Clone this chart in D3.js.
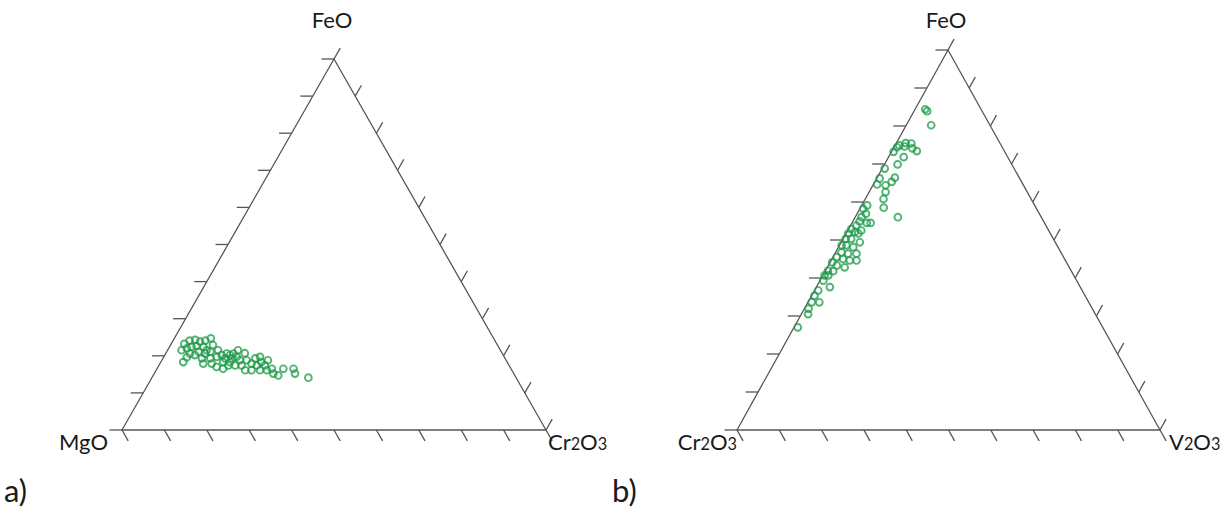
<!DOCTYPE html>
<html lang="en">
<head>
    <meta charset="UTF-8">
    <title>Ternary diagrams</title>
    <script src="https://cdn.jsdelivr.net/npm/d3@7"></script>
    <style>
        body { margin: 0; background: #fff; }
        svg text { font-family: Lato, "Open Sans", sans-serif; fill: #1a1a1a; }
    </style>
</head>
<body>
<div class="chart"></div>

<script type="text/javascript">
    // panel a: FeO / Cr2O3 in % (MgO = rest)
    var feoA = [23.2, 24.1, 24.3, 23.8, 24.1, 24.7, 21.5, 22.0, 22.4, 22.6, 22.4, 21.5, 21.1,
        18.3, 20.6, 20.2, 19.3, 17.9, 17.9, 19.7, 20.2, 19.3, 20.6, 20.2, 20.6, 19.3, 19.7,
        18.8, 17.0, 16.5, 17.4, 17.4, 17.4, 18.8, 17.9, 19.3, 19.7, 17.4, 18.3, 17.4, 16.1,
        16.1, 16.5, 15.2, 14.7, 16.5, 16.5, 15.2, 14.1, 16.1, 16.1, 18.3, 18.3, 19.3, 20.6,
        21.1, 19.6, 22.9, 21.5, 21.5, 20.7, 18.8];
    var crA = [3.1, 3.9, 5.1, 6.5, 7.6, 8.6, 3.3, 4.3, 5.2, 6.3, 8.0, 9.2, 10.3,
        5.3, 5.7, 7.1, 9.2, 10.2, 12.2, 12.5, 13.4, 14.7, 14.4, 15.4, 16.0, 16.3, 17.2,
        18.4, 13.8, 15.6, 16.4, 18.0, 19.5, 20.0, 21.6, 21.8, 22.7, 23.1, 23.7, 25.0, 26.1,
        24.5, 27.1, 28.1, 29.5, 29.8, 32.2, 33.2, 36.9, 21.0, 22.5, 14.7, 16.3, 11.2, 9.3,
        7.5, 5.5, 10.0, 11.9, 16.6, 18.6, 25.0];

    // panel b: FeO / V2O3 in % (Cr2O3 = rest)
    var feoB = [84.4, 83.9, 80.2, 75.5, 75.4, 74.9, 74.4, 74.6, 74.1, 73.4, 73.2, 71.8, 69.9,
        68.8, 66.2, 64.6, 64.4, 66.4, 65.3, 62.6, 60.8, 58.5, 56.0, 59.1, 58.2, 56.9, 56.0,
        54.9, 54.5, 53.8, 52.9, 52.1, 51.7, 51.7, 54.5, 52.5, 50.3, 50.3, 49.4, 48.6, 48.6,
        48.1, 46.7, 46.4, 46.4, 45.5, 45.0, 44.6, 44.6, 44.1, 43.3, 42.8, 41.9, 41.8, 40.7,
        40.7, 39.3, 37.6, 36.7, 35.3, 33.6, 33.6, 31.9, 30.5, 27.0];
    var v2o3B = [2.4, 3.1, 5.9, 2.2, 3.6, 1.0, 0.7, 2.4, 4.5, 5.9, 0.5, 3.6, 3.1,
        0.6, 0.7, 0.9, 3.0, 4.2, 4.0, 3.9, 4.3, 5.5, 10.1, 1.3, 0.8, 2.1, 1.5,
        1.6, 4.4, 1.4, 0.6, 1.9, 0.5, 2.9, 3.5, 3.2, 0.6, 1.9, 4.4, 0.5, 1.6,
        3.5, 1.4, 3.1, 5.1, 0.9, 2.6, 4.4, 6.0, 0.5, 2.0, 4.1, 0.6, 1.9, 0.4,
        1.3, 0.8, 3.2, 0.9, 0.7, 2.7, 0.9, 1.0, 1.6, 0.9];

    var tickValues = d3.range(0, 101, 10);

    var w = 1227, h = 512;
    var svg = d3.select('.chart').append('svg')
            .attr('width', w)
            .attr('height', h);

    function unit(a, b) {
        var dx = b[0] - a[0], dy = b[1] - a[1], l = Math.sqrt(dx * dx + dy * dy);
        return [dx / l, dy / l];
    }

    function drawPanel(L, R, T, feo, other, labels) {
        var g = svg.append('g');
        var tickLen = 12.5;

        // along the base and up the height
        var x = d3.scaleLinear().domain([0, 100]).range([L[0], R[0]]);
        var y = d3.scaleLinear().domain([0, 100]).range([L[1], T[1]]);
        var shear = (T[0] - L[0]) / (R[0] - L[0]);

        g.append('path')
                .attr('d', d3.line()([L, R, T]) + 'Z')
                .attr('fill', 'none')
                .attr('stroke', '#555')
                .attr('stroke-width', 1.3);

        // edge scales and tick directions
        var edges = [
            {s: d3.scaleLinear().domain([0, 100]).range([L, R]), dir: unit(T, R)},
            {s: d3.scaleLinear().domain([0, 100]).range([L, T]), dir: unit(R, L)},
            {s: d3.scaleLinear().domain([0, 100]).range([R, T]), dir: unit(L, T)}
        ];
        edges.forEach(function(e) {
            g.selectAll(null)
                    .data(tickValues)
                    .enter()
                    .append('line')
                    .attr('x1', function(d) { return e.s(d)[0]; })
                    .attr('y1', function(d) { return e.s(d)[1]; })
                    .attr('x2', function(d) { return e.s(d)[0] + e.dir[0] * tickLen; })
                    .attr('y2', function(d) { return e.s(d)[1] + e.dir[1] * tickLen; })
                    .attr('stroke', '#555')
                    .attr('stroke-width', 1.3);
        });

        g.selectAll('circle')
                .data(feo)
                .enter()
                .append('circle')
                .attr('cx', function(d, i) { return x(other[i] + shear * d); })
                .attr('cy', function(d) { return y(d); })
                .attr('r', 3.4)
                .attr('fill', 'none')
                .attr('stroke', '#1c9a48')
                .attr('stroke-width', 1.9)
                .attr('stroke-opacity', 0.75);

        labels.forEach(function(lb) {
            var t = g.append('text')
                    .attr('x', lb.x)
                    .attr('y', lb.y)
                    .attr('text-anchor', lb.anchor)
                    .style('font-size', lb.size + 'px');
            lb.parts.forEach(function(p, i) {
                t.append('tspan')
                        .style('font-size', (i % 2 ? lb.size * 0.74 : lb.size) + 'px')
                        .text(p);
            });
        });
    }

    drawPanel([122, 430], [546, 430], [334, 59], feoA, crA, [
        {x: 332, y: 28, anchor: 'middle', size: 22, parts: ['FeO']},
        {x: 108, y: 450, anchor: 'end', size: 22, parts: ['MgO']},
        {x: 548, y: 450, anchor: 'start', size: 22, parts: ['Cr', '2', 'O', '3']},
        {x: 4, y: 502, anchor: 'start', size: 31, parts: ['a)']}
    ]);

    drawPanel([737, 430], [1160, 430], [948, 50], feoB, v2o3B, [
        {x: 946, y: 28, anchor: 'middle', size: 22, parts: ['FeO']},
        {x: 737, y: 450, anchor: 'end', size: 22, parts: ['Cr', '2', 'O', '3']},
        {x: 1169, y: 450, anchor: 'start', size: 22, parts: ['V', '2', 'O', '3']},
        {x: 612, y: 502, anchor: 'start', size: 31, parts: ['b)']}
    ]);
</script>
</body>
</html>
